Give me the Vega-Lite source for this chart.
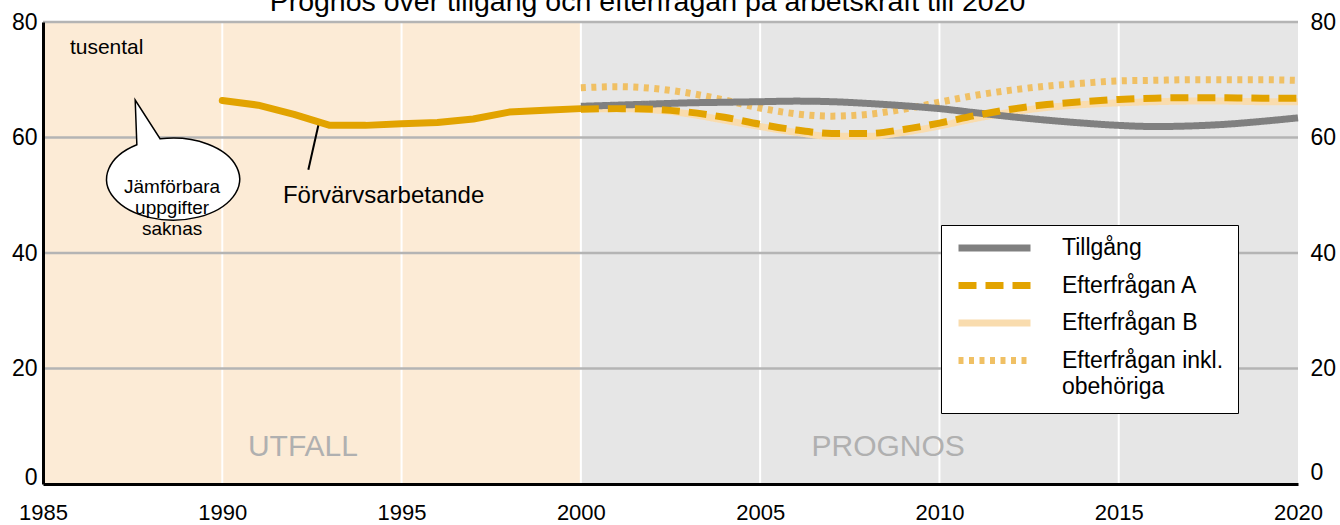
{
 "$schema": "https://vega.github.io/schema/vega-lite/v6.json",
 "width": 1255,
 "height": 462,
 "autosize": {"type": "none"},
 "padding": {"left": 43, "top": 22, "right": 42, "bottom": 41},
 "background": "white",
 "config": {
  "font": "Liberation Sans",
  "view": {"stroke": null}
 },
 "title": {"text": "Prognos över tillgång och efterfrågan på arbetskraft till 2020", "fontSize": 28.5, "fontWeight": "normal", "color": "#000", "anchor": "middle", "frame": "group", "offset": 0, "baseline": "alphabetic", "dx": -23, "dy": 28},
 "datasets": {
  "forv": [
   {"year": 1990, "v": 66.4}, {"year": 1991, "v": 65.6}, {"year": 1992, "v": 64.0}, {"year": 1993, "v": 62.1},
   {"year": 1994, "v": 62.1}, {"year": 1995, "v": 62.4}, {"year": 1996, "v": 62.6}, {"year": 1997, "v": 63.2},
   {"year": 1998, "v": 64.4}, {"year": 1999, "v": 64.7}, {"year": 2000, "v": 65.0}
  ],
  "prognos": [
   {"serie": "Efterfrågan B", "year": 2000, "v": 64.9}, {"serie": "Efterfrågan B", "year": 2001, "v": 65.0}, {"serie": "Efterfrågan B", "year": 2002, "v": 64.8}, {"serie": "Efterfrågan B", "year": 2003, "v": 64.1}, {"serie": "Efterfrågan B", "year": 2004, "v": 63.0}, {"serie": "Efterfrågan B", "year": 2005, "v": 61.9}, {"serie": "Efterfrågan B", "year": 2006, "v": 60.9}, {"serie": "Efterfrågan B", "year": 2007, "v": 60.2}, {"serie": "Efterfrågan B", "year": 2008, "v": 60.2}, {"serie": "Efterfrågan B", "year": 2009, "v": 60.9}, {"serie": "Efterfrågan B", "year": 2010, "v": 62.0}, {"serie": "Efterfrågan B", "year": 2011, "v": 63.3}, {"serie": "Efterfrågan B", "year": 2012, "v": 64.4}, {"serie": "Efterfrågan B", "year": 2013, "v": 65.2}, {"serie": "Efterfrågan B", "year": 2014, "v": 65.7}, {"serie": "Efterfrågan B", "year": 2015, "v": 66.0}, {"serie": "Efterfrågan B", "year": 2016, "v": 66.2}, {"serie": "Efterfrågan B", "year": 2017, "v": 66.3}, {"serie": "Efterfrågan B", "year": 2018, "v": 66.3}, {"serie": "Efterfrågan B", "year": 2019, "v": 66.2}, {"serie": "Efterfrågan B", "year": 2020, "v": 66.2},
   {"serie": "Efterfrågan inkl. obehöriga", "year": 2000, "v": 68.6}, {"serie": "Efterfrågan inkl. obehöriga", "year": 2001, "v": 68.8}, {"serie": "Efterfrågan inkl. obehöriga", "year": 2002, "v": 68.5}, {"serie": "Efterfrågan inkl. obehöriga", "year": 2003, "v": 67.7}, {"serie": "Efterfrågan inkl. obehöriga", "year": 2004, "v": 66.5}, {"serie": "Efterfrågan inkl. obehöriga", "year": 2005, "v": 65.1}, {"serie": "Efterfrågan inkl. obehöriga", "year": 2006, "v": 64.1}, {"serie": "Efterfrågan inkl. obehöriga", "year": 2007, "v": 63.7}, {"serie": "Efterfrågan inkl. obehöriga", "year": 2008, "v": 64.0}, {"serie": "Efterfrågan inkl. obehöriga", "year": 2009, "v": 64.9}, {"serie": "Efterfrågan inkl. obehöriga", "year": 2010, "v": 66.1}, {"serie": "Efterfrågan inkl. obehöriga", "year": 2011, "v": 67.3}, {"serie": "Efterfrågan inkl. obehöriga", "year": 2012, "v": 68.2}, {"serie": "Efterfrågan inkl. obehöriga", "year": 2013, "v": 68.9}, {"serie": "Efterfrågan inkl. obehöriga", "year": 2014, "v": 69.4}, {"serie": "Efterfrågan inkl. obehöriga", "year": 2015, "v": 69.8}, {"serie": "Efterfrågan inkl. obehöriga", "year": 2016, "v": 69.9}, {"serie": "Efterfrågan inkl. obehöriga", "year": 2017, "v": 70.0}, {"serie": "Efterfrågan inkl. obehöriga", "year": 2018, "v": 70.0}, {"serie": "Efterfrågan inkl. obehöriga", "year": 2019, "v": 70.0}, {"serie": "Efterfrågan inkl. obehöriga", "year": 2020, "v": 69.9},
   {"serie": "Tillgång", "year": 2000, "v": 65.4}, {"serie": "Tillgång", "year": 2001, "v": 65.6}, {"serie": "Tillgång", "year": 2002, "v": 65.8}, {"serie": "Tillgång", "year": 2003, "v": 66.0}, {"serie": "Tillgång", "year": 2004, "v": 66.1}, {"serie": "Tillgång", "year": 2005, "v": 66.2}, {"serie": "Tillgång", "year": 2006, "v": 66.3}, {"serie": "Tillgång", "year": 2007, "v": 66.2}, {"serie": "Tillgång", "year": 2008, "v": 65.9}, {"serie": "Tillgång", "year": 2009, "v": 65.5}, {"serie": "Tillgång", "year": 2010, "v": 65.0}, {"serie": "Tillgång", "year": 2011, "v": 64.3}, {"serie": "Tillgång", "year": 2012, "v": 63.6}, {"serie": "Tillgång", "year": 2013, "v": 63.0}, {"serie": "Tillgång", "year": 2014, "v": 62.5}, {"serie": "Tillgång", "year": 2015, "v": 62.1}, {"serie": "Tillgång", "year": 2016, "v": 61.9}, {"serie": "Tillgång", "year": 2017, "v": 62.0}, {"serie": "Tillgång", "year": 2018, "v": 62.3}, {"serie": "Tillgång", "year": 2019, "v": 62.8}, {"serie": "Tillgång", "year": 2020, "v": 63.4},
   {"serie": "Efterfrågan A", "year": 2000, "v": 64.9}, {"serie": "Efterfrågan A", "year": 2001, "v": 65.0}, {"serie": "Efterfrågan A", "year": 2002, "v": 64.9}, {"serie": "Efterfrågan A", "year": 2003, "v": 64.4}, {"serie": "Efterfrågan A", "year": 2004, "v": 63.5}, {"serie": "Efterfrågan A", "year": 2005, "v": 62.3}, {"serie": "Efterfrågan A", "year": 2006, "v": 61.3}, {"serie": "Efterfrågan A", "year": 2007, "v": 60.7}, {"serie": "Efterfrågan A", "year": 2008, "v": 60.7}, {"serie": "Efterfrågan A", "year": 2009, "v": 61.4}, {"serie": "Efterfrågan A", "year": 2010, "v": 62.5}, {"serie": "Efterfrågan A", "year": 2011, "v": 63.8}, {"serie": "Efterfrågan A", "year": 2012, "v": 64.9}, {"serie": "Efterfrågan A", "year": 2013, "v": 65.7}, {"serie": "Efterfrågan A", "year": 2014, "v": 66.2}, {"serie": "Efterfrågan A", "year": 2015, "v": 66.6}, {"serie": "Efterfrågan A", "year": 2016, "v": 66.8}, {"serie": "Efterfrågan A", "year": 2017, "v": 66.9}, {"serie": "Efterfrågan A", "year": 2018, "v": 66.9}, {"serie": "Efterfrågan A", "year": 2019, "v": 66.8}, {"serie": "Efterfrågan A", "year": 2020, "v": 66.8}
  ]
 },
 "resolve": {"axis": {"y": "independent"}},
 "layer": [
  {
   "data": {"values": [{"fas": "UTFALL", "start": 1985, "end": 2000}, {"fas": "PROGNOS", "start": 2000, "end": 2020}]},
   "mark": {"type": "rect"},
   "encoding": {
    "x": {"field": "start", "type": "quantitative", "scale": {"domain": [1985, 2020], "nice": false, "zero": false},
      "axis": {"title": null, "values": [1985, 1990, 1995, 2000, 2005, 2010, 2015, 2020], "format": "d", "labelFontSize": 22, "labelColor": "#000", "labelPadding": 18, "ticks": false, "domainColor": "#000", "domainWidth": 3, "grid": false, "labelFlush": false, "labelOverlap": false, "zindex": 1}},
    "x2": {"field": "end"},
    "y": {"datum": 0, "type": "quantitative", "scale": {"domain": [0, 80], "nice": false, "zero": true},
      "axis": {"title": null, "orient": "left", "values": [0, 20, 40, 60, 80], "labelFontSize": 23, "labelColor": "#000", "labelPadding": 6, "ticks": false, "domainColor": "#000", "domainWidth": 3, "grid": false, "zindex": 1, "labelOffset": {"condition": {"test": "datum.value === 0", "value": -7}, "value": 0}}},
    "y2": {"datum": 80},
    "fill": {"field": "fas", "type": "nominal", "scale": {"domain": ["UTFALL", "PROGNOS"], "range": ["#fcebd6", "#e6e6e6"]}, "legend": null}
   }
  },
  {
   "data": {"values": [{"yr": 1990}, {"yr": 1995}, {"yr": 2000}, {"yr": 2005}, {"yr": 2010}, {"yr": 2015}]},
   "mark": {"type": "rule", "color": "#ffffff", "strokeWidth": 2},
   "encoding": {"x": {"field": "yr", "type": "quantitative", "scale": {"domain": [1985, 2020], "nice": false, "zero": false},
      "axis": {"title": null, "values": [1985, 1990, 1995, 2000, 2005, 2010, 2015, 2020], "format": "d", "labelFontSize": 22, "labelColor": "#000", "labelPadding": 18, "ticks": false, "domainColor": "#000", "domainWidth": 3, "grid": false, "labelFlush": false, "labelOverlap": false, "zindex": 1}}}
  },
  {
   "data": {"values": [{"g": 20}, {"g": 40}, {"g": 60}, {"g": 80}]},
   "mark": {"type": "rule", "color": "#b4b4b4", "strokeWidth": 2.5},
   "encoding": {"y": {"field": "g", "type": "quantitative", "scale": {"domain": [0, 80], "nice": false}, "axis": null}}
  },
  {
   "data": {"values": [{"x": 1992.25, "y": 6.4, "t": "UTFALL"}, {"x": 2008.57, "y": 6.4, "t": "PROGNOS"}]},
   "mark": {"type": "text", "fontSize": 30, "color": "#b0b0b0", "align": "center", "baseline": "middle"},
   "encoding": {
    "x": {"field": "x", "type": "quantitative", "scale": {"domain": [1985, 2020], "nice": false, "zero": false},
      "axis": {"title": null, "values": [1985, 1990, 1995, 2000, 2005, 2010, 2015, 2020], "format": "d", "labelFontSize": 22, "labelColor": "#000", "labelPadding": 18, "ticks": false, "domainColor": "#000", "domainWidth": 3, "grid": false, "labelFlush": false, "labelOverlap": false, "zindex": 1}},
    "y": {"field": "y", "type": "quantitative", "scale": {"domain": [0, 80], "nice": false}, "axis": null},
    "text": {"field": "t"}
   }
  },
  {
   "data": {"values": [{"x": 1988.63, "y": 52.8}]},
   "mark": {"type": "point", "shape": "M-0.546,-0.517L-0.571,-1.188L-0.195,-0.605A1,0.617,0,1,1,-0.546,-0.517Z", "size": 17689, "filled": true, "fill": "#ffffff", "stroke": "#000000", "strokeWidth": 1.5, "opacity": 1},
   "encoding": {
    "x": {"field": "x", "type": "quantitative", "scale": {"domain": [1985, 2020], "nice": false, "zero": false},
      "axis": {"title": null, "values": [1985, 1990, 1995, 2000, 2005, 2010, 2015, 2020], "format": "d", "labelFontSize": 22, "labelColor": "#000", "labelPadding": 18, "ticks": false, "domainColor": "#000", "domainWidth": 3, "grid": false, "labelFlush": false, "labelOverlap": false, "zindex": 1}},
    "y": {"field": "y", "type": "quantitative", "scale": {"domain": [0, 80], "nice": false}, "axis": null}
   }
  },
  {
   "data": {"values": [{"x": 1988.6, "y": 51.4, "t": "Jämförbara\nuppgifter\nsaknas"}]},
   "mark": {"type": "text", "lineBreak": "\n", "lineHeight": 21, "fontSize": 19, "align": "center", "baseline": "middle", "color": "#000"},
   "encoding": {
    "x": {"field": "x", "type": "quantitative", "scale": {"domain": [1985, 2020], "nice": false, "zero": false},
      "axis": {"title": null, "values": [1985, 1990, 1995, 2000, 2005, 2010, 2015, 2020], "format": "d", "labelFontSize": 22, "labelColor": "#000", "labelPadding": 18, "ticks": false, "domainColor": "#000", "domainWidth": 3, "grid": false, "labelFlush": false, "labelOverlap": false, "zindex": 1}},
    "y": {"field": "y", "type": "quantitative", "scale": {"domain": [0, 80], "nice": false}, "axis": null},
    "text": {"field": "t"}
   }
  },
  {
   "data": {"values": [{"x": 1985.75, "y": 75.5, "t": "tusental"}]},
   "mark": {"type": "text", "fontSize": 21, "align": "left", "baseline": "middle", "color": "#000"},
   "encoding": {
    "x": {"field": "x", "type": "quantitative", "scale": {"domain": [1985, 2020], "nice": false, "zero": false},
      "axis": {"title": null, "values": [1985, 1990, 1995, 2000, 2005, 2010, 2015, 2020], "format": "d", "labelFontSize": 22, "labelColor": "#000", "labelPadding": 18, "ticks": false, "domainColor": "#000", "domainWidth": 3, "grid": false, "labelFlush": false, "labelOverlap": false, "zindex": 1}},
    "y": {"field": "y", "type": "quantitative", "scale": {"domain": [0, 80], "nice": false}, "axis": null},
    "text": {"field": "t"}
   }
  },
  {
   "data": {"values": [{"x": 1991.69, "y": 49.9, "t": "Förvärvsarbetande"}]},
   "mark": {"type": "text", "fontSize": 24, "align": "left", "baseline": "middle", "color": "#000"},
   "encoding": {
    "x": {"field": "x", "type": "quantitative", "scale": {"domain": [1985, 2020], "nice": false, "zero": false},
      "axis": {"title": null, "values": [1985, 1990, 1995, 2000, 2005, 2010, 2015, 2020], "format": "d", "labelFontSize": 22, "labelColor": "#000", "labelPadding": 18, "ticks": false, "domainColor": "#000", "domainWidth": 3, "grid": false, "labelFlush": false, "labelOverlap": false, "zindex": 1}},
    "y": {"field": "y", "type": "quantitative", "scale": {"domain": [0, 80], "nice": false}, "axis": null},
    "text": {"field": "t"}
   }
  },
  {
   "data": {"values": [{"x1": 1992.40, "y1": 54.4, "x2": 1992.70, "y2": 62.7}]},
   "mark": {"type": "rule", "color": "#000", "strokeWidth": 2},
   "encoding": {
    "x": {"field": "x1", "type": "quantitative", "scale": {"domain": [1985, 2020], "nice": false, "zero": false},
      "axis": {"title": null, "values": [1985, 1990, 1995, 2000, 2005, 2010, 2015, 2020], "format": "d", "labelFontSize": 22, "labelColor": "#000", "labelPadding": 18, "ticks": false, "domainColor": "#000", "domainWidth": 3, "grid": false, "labelFlush": false, "labelOverlap": false, "zindex": 1}},
    "x2": {"field": "x2"},
    "y": {"field": "y1", "type": "quantitative", "scale": {"domain": [0, 80], "nice": false}, "axis": null},
    "y2": {"field": "y2"}
   }
  },
  {
   "data": {"name": "forv"},
   "mark": {"type": "line", "color": "#e2a300", "strokeWidth": 7, "strokeCap": "round", "strokeJoin": "round"},
   "encoding": {
    "x": {"field": "year", "type": "quantitative", "scale": {"domain": [1985, 2020], "nice": false, "zero": false},
      "axis": {"title": null, "values": [1985, 1990, 1995, 2000, 2005, 2010, 2015, 2020], "format": "d", "labelFontSize": 22, "labelColor": "#000", "labelPadding": 18, "ticks": false, "domainColor": "#000", "domainWidth": 3, "grid": false, "labelFlush": false, "labelOverlap": false, "zindex": 1}},
    "y": {"field": "v", "type": "quantitative", "scale": {"domain": [0, 80], "nice": false},
      "axis": {"title": null, "orient": "right", "values": [0, 20, 40, 60, 80], "labelFontSize": 23, "labelColor": "#000", "labelPadding": 12, "ticks": false, "domain": false, "grid": false, "labelOffset": {"condition": {"test": "datum.value === 0", "value": -12}, "value": 0}}}
   }
  },
  {
   "data": {"name": "prognos"},
   "mark": {"type": "line", "strokeWidth": 7, "interpolate": "monotone"},
   "encoding": {
    "x": {"field": "year", "type": "quantitative", "scale": {"domain": [1985, 2020], "nice": false, "zero": false},
      "axis": {"title": null, "values": [1985, 1990, 1995, 2000, 2005, 2010, 2015, 2020], "format": "d", "labelFontSize": 22, "labelColor": "#000", "labelPadding": 18, "ticks": false, "domainColor": "#000", "domainWidth": 3, "grid": false, "labelFlush": false, "labelOverlap": false, "zindex": 1}},
    "y": {"field": "v", "type": "quantitative", "scale": {"domain": [0, 80], "nice": false}, "axis": null},
    "stroke": {"field": "serie", "type": "nominal", "sort": null,
      "scale": {"domain": ["Tillgång", "Efterfrågan A", "Efterfrågan B", "Efterfrågan inkl. obehöriga"], "range": ["#808080", "#e2a300", "#f9dcae", "#f0c064"]},
      "legend": {"title": null, "orient": "none", "legendX": 898, "legendY": 203, "symbolType": "stroke", "symbolSize": 5184, "symbolStrokeWidth": 7, "clipHeight": 18, "labelFontSize": 23, "labelColor": "#000", "labelLimit": 400, "labelOffset": 28, "rowPadding": 14.5, "padding": 14, "fillColor": "#ffffff", "strokeColor": "#000000", "labelExpr": "datum.label == 'Efterfrågan inkl. obehöriga' ? ['Efterfrågan inkl.', 'obehöriga'] : datum.label",
        "encode": {"labels": {"update": {"lineHeight": {"value": 26}}}}}},
    "strokeDash": {"field": "serie", "type": "nominal", "sort": null,
      "scale": {"domain": ["Tillgång", "Efterfrågan A", "Efterfrågan B", "Efterfrågan inkl. obehöriga"], "range": [[1, 0], [18, 9], [1, 0], [5, 5.5]]},
      "legend": {"title": null, "orient": "none", "legendX": 898, "legendY": 203, "symbolType": "stroke", "symbolSize": 5184, "symbolStrokeWidth": 7, "clipHeight": 18, "labelFontSize": 23, "labelColor": "#000", "labelLimit": 400, "labelOffset": 28, "rowPadding": 14.5, "padding": 14, "fillColor": "#ffffff", "strokeColor": "#000000", "labelExpr": "datum.label == 'Efterfrågan inkl. obehöriga' ? ['Efterfrågan inkl.', 'obehöriga'] : datum.label",
        "encode": {"labels": {"update": {"lineHeight": {"value": 26}}}}}}
   }
  }
 ]
}
